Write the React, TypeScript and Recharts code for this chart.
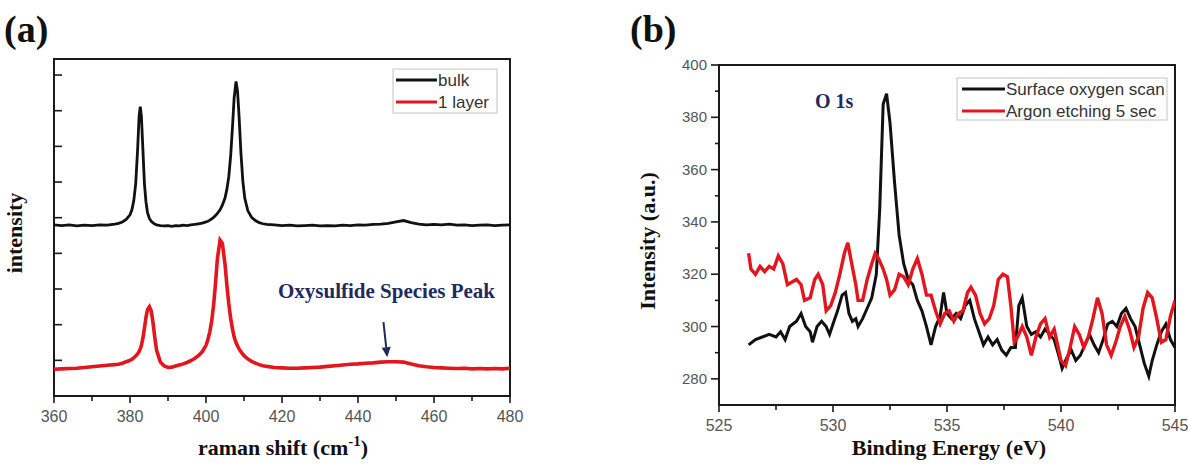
import React from 'react';
import { LineChart, Line, XAxis, YAxis, ReferenceArea, ReferenceLine } from 'recharts';

// Raman spectra (panel a)
const ramanShift = [
  360, 362, 364, 366, 368, 370, 372, 374, 376, 377,
  378, 379, 380, 380.5, 381, 381.5, 382, 382.4, 382.7, 383,
  383.4, 383.8, 384.2, 384.6, 385.1, 385.6, 386, 386.5, 387, 388,
  389, 390, 391, 392, 393, 394, 395, 396, 397, 398,
  399, 400, 400.5, 401, 401.5, 402, 402.5, 403, 403.7, 404.3,
  405, 405.5, 406, 406.5, 407, 407.4, 407.9, 408.3, 408.7, 409.2,
  409.7, 410.2, 411, 412, 413, 414, 415, 416, 418, 420,
  422, 424, 426, 428, 430, 432, 434, 436, 438, 440,
  442, 444, 446, 448, 450, 452, 454, 456, 458, 460,
  462, 464, 466, 468, 470, 472, 474, 476, 478, 480,
];
const bulkIntensity = [
  4.80, 4.78, 4.80, 4.77, 4.79, 4.78, 4.80, 4.79, 4.82, 4.84,
  4.88, 4.95, 5.08, 5.22, 5.48, 5.95, 6.90, 7.85, 8.11, 7.85,
  6.90, 5.95, 5.45, 5.15, 4.98, 4.90, 4.86, 4.82, 4.80, 4.78,
  4.77, 4.78, 4.76, 4.78, 4.77, 4.79, 4.78, 4.80, 4.81, 4.83,
  4.85, 4.88, 4.90, 4.93, 4.97, 5.01, 5.06, 5.12, 5.22, 5.35,
  5.55, 5.80, 6.15, 6.75, 7.60, 8.35, 8.82, 8.55, 7.85, 6.80,
  6.02, 5.55, 5.20, 5.01, 4.92, 4.86, 4.83, 4.81, 4.80, 4.78,
  4.79, 4.77, 4.78, 4.79, 4.77, 4.78, 4.77, 4.79, 4.78, 4.80,
  4.79, 4.81, 4.82, 4.84, 4.88, 4.92, 4.86, 4.82, 4.80, 4.81,
  4.80, 4.82, 4.79, 4.80, 4.78, 4.79, 4.80, 4.78, 4.79, 4.80,
];
const layerIntensity = [
  0.75, 0.76, 0.77, 0.78, 0.80, 0.82, 0.84, 0.86, 0.88, 0.89,
  0.92, 0.96, 1.00, 1.03, 1.07, 1.12, 1.18, 1.25, 1.32, 1.42,
  1.62, 1.90, 2.20, 2.42, 2.50, 2.38, 2.10, 1.66, 1.28, 0.95,
  0.84, 0.80, 0.81, 0.84, 0.87, 0.90, 0.94, 0.99, 1.05, 1.13,
  1.24, 1.42, 1.58, 1.80, 2.10, 2.55, 3.15, 3.85, 4.37, 4.28,
  3.70, 3.10, 2.58, 2.17, 1.86, 1.66, 1.50, 1.40, 1.32, 1.24,
  1.17, 1.11, 1.04, 0.97, 0.92, 0.88, 0.85, 0.83, 0.80, 0.79,
  0.78, 0.78, 0.79, 0.80, 0.81, 0.83, 0.85, 0.87, 0.89, 0.90,
  0.92, 0.93, 0.95, 0.96, 0.96, 0.95, 0.90, 0.85, 0.82, 0.80,
  0.79, 0.78, 0.77, 0.78, 0.76, 0.77, 0.76, 0.77, 0.76, 0.78,
];
const ramanTicks = [360, 370, 380, 390, 400, 410, 420, 430, 440, 450, 460, 470, 480];
const ramanLevels = [1, 2, 3, 4, 5, 6, 7, 8, 9];
const oxysulfideArrow = [
  { x: 446.7, y: 2.07 },
  { x: 447.7, y: 1.09 },
];

// O 1s XPS scans (panel b)
const surfaceEnergy = [
  526.3, 526.6, 526.9, 527.2, 527.5, 527.7, 527.9, 528.1, 528.4, 528.6,
  528.8, 529.0, 529.1, 529.3, 529.5, 529.7, 529.85, 530.0, 530.2, 530.4,
  530.55, 530.7, 530.85, 531.0, 531.1, 531.3, 531.5, 531.7, 531.9, 532.05,
  532.2, 532.35, 532.5, 532.7, 532.9, 533.1, 533.3, 533.5, 533.7, 533.9,
  534.1, 534.3, 534.5, 534.7, 534.85, 535.0, 535.2, 535.4, 535.6, 535.8,
  536.0, 536.2, 536.4, 536.6, 536.8, 537.0, 537.2, 537.4, 537.6, 537.8,
  538.0, 538.15, 538.3, 538.5, 538.7, 538.9, 539.1, 539.3, 539.5, 539.7,
  539.9, 540.05, 540.25, 540.45, 540.65, 540.85, 541.05, 541.25, 541.45, 541.65,
  541.85, 542.05, 542.25, 542.45, 542.65, 542.85, 543.05, 543.25, 543.45, 543.65,
  543.85, 544.0, 544.2, 544.4, 544.6, 544.8, 545.0,
];
const surfaceCounts = [
  293, 295, 296, 297, 296, 298, 295, 300, 302, 305,
  300, 298, 294, 300, 302, 300, 297, 301, 306, 312,
  313, 305, 302, 303, 300, 303, 307, 311, 320, 345,
  385, 389, 378, 355, 335, 324, 318, 316, 310, 306,
  300, 293, 300, 304, 313, 305, 303, 305, 303, 308,
  310, 303, 298, 293, 296, 293, 295, 291, 289, 292,
  292, 308, 311, 300, 297, 298, 296, 299, 297, 295,
  289, 284, 288, 291, 287, 289, 293, 297, 293, 290,
  295, 301, 302, 300, 305, 307, 303, 300, 293, 286,
  281, 287, 293, 298, 301, 295, 292,
];
const etchEnergy = [
  526.3, 526.4, 526.6, 526.8, 527.0, 527.2, 527.4, 527.6, 527.8, 528.0,
  528.2, 528.4, 528.6, 528.75, 529.0, 529.2, 529.35, 529.55, 529.7, 529.9,
  530.1, 530.3, 530.5, 530.65, 530.8, 531.0, 531.1, 531.3, 531.5, 531.7,
  531.85, 532.0, 532.2, 532.35, 532.5, 532.7, 532.9, 533.1, 533.3, 533.5,
  533.7, 533.9, 534.1, 534.3, 534.5, 534.7, 534.9, 535.1, 535.3, 535.5,
  535.7, 535.9, 536.05, 536.25, 536.45, 536.65, 536.85, 537.05, 537.25, 537.45,
  537.65, 537.8, 537.95, 538.1, 538.3, 538.5, 538.7, 538.9, 539.1, 539.3,
  539.5, 539.7, 539.85, 540.0, 540.2, 540.4, 540.6, 540.8, 541.0, 541.2,
  541.4, 541.6, 541.8, 542.0, 542.2, 542.4, 542.6, 542.8, 543.0, 543.2,
  543.4, 543.6, 543.8, 544.0, 544.2, 544.4, 544.6, 544.8, 545.0,
];
const etchCounts = [
  328, 322, 320, 323, 321, 323, 322, 327, 324, 316,
  317, 318, 316, 310, 311, 318, 320, 316, 306, 308,
  313, 320, 328, 332, 325, 316, 310, 310, 318, 324,
  328, 326, 322, 318, 312, 314, 320, 319, 316, 322,
  326, 320, 312, 312, 306, 301, 305, 306, 302, 305,
  306, 313, 315, 312, 305, 301, 303, 308, 318, 320,
  319, 308, 294, 296, 300, 296, 289, 296, 301, 303,
  296, 299, 293, 287, 285, 292, 300, 297, 292, 296,
  303, 311, 305, 293, 289, 294, 300, 304, 299, 292,
  296, 307, 313, 311, 303, 294, 295, 304, 310,
];
const energyTicks = [525, 527.5, 530, 532.5, 535, 537.5, 540, 542.5, 545];
const countTicks = [280, 290, 300, 310, 320, 330, 340, 350, 360, 370, 380, 390, 400];

const ramanData = ramanShift.map((shift, i) => ({
  shift,
  bulk: bulkIntensity[i],
  layer: layerIntensity[i],
}));
const surfaceData = surfaceEnergy.map((energy, i) => ({ energy, counts: surfaceCounts[i] }));
const etchData = etchEnergy.map((energy, i) => ({ energy, counts: etchCounts[i] }));

const SERIF = '"Liberation Serif", "Times New Roman", serif';
const SANS = '"Liberation Sans", Arial, sans-serif';
const INK = '#1a1a1a';
const LABEL = '#555555';
const RED = '#e3161d';
const NAVY = '#1f2b5e';

// tick renderers: tickSize/tickMargin are 0, so x/y sit on the axis line
const bottomTick = (isMajor: (v: number) => boolean) => (props: any) => {
  const { x, y, payload } = props;
  const major = isMajor(payload.value);
  return (
    <g>
      <line x1={x} x2={x} y1={y} y2={y + (major ? 7 : 5)} stroke={INK} strokeWidth={1.6} />
      {major && (
        <text x={x} y={y + 26} textAnchor="middle" fontSize={16} fontFamily={SANS} fill={LABEL}>
          {payload.value}
        </text>
      )}
    </g>
  );
};

const innerLeftTick = (props: any) => {
  const { x, y } = props;
  return <line x1={x} x2={x + 8} y1={y} y2={y} stroke={INK} strokeWidth={1.6} />;
};

const outerLeftTick = (props: any) => {
  const { x, y, payload } = props;
  const major = payload.value % 20 === 0;
  return (
    <g>
      <line x1={x - (major ? 8 : 4)} x2={x} y1={y} y2={y} stroke={INK} strokeWidth={1.6} />
      {major && (
        <text x={x - 12} y={y + 5} textAnchor="end" fontSize={15} fontFamily={SANS} fill={LABEL}>
          {payload.value}
        </text>
      )}
    </g>
  );
};

const ArrowShape = (props: any) => {
  const { x1, y1, x2, y2 } = props;
  const ang = Math.atan2(y2 - y1, x2 - x1);
  const len = 10;
  const half = 4.5;
  const bx = x2 - len * Math.cos(ang);
  const by = y2 - len * Math.sin(ang);
  const px = -Math.sin(ang) * half;
  const py = Math.cos(ang) * half;
  return (
    <g>
      <line x1={x1} y1={y1} x2={bx} y2={by} stroke={NAVY} strokeWidth={2} />
      <polygon points={`${x2},${y2} ${bx + px},${by + py} ${bx - px},${by - py}`} fill={NAVY} />
    </g>
  );
};

const RamanPanel = () => (
  <LineChart width={600} height={471} data={ramanData} margin={{ top: 59, right: 90, bottom: 45, left: 24 }}>
    <XAxis
      dataKey="shift"
      type="number"
      domain={[360, 480]}
      ticks={ramanTicks}
      interval={0}
      height={30}
      axisLine={false}
      tickLine={false}
      tickSize={0}
      tickMargin={0}
      tick={bottomTick((v) => v % 20 === 0)}
      allowDataOverflow
    />
    <YAxis
      type="number"
      domain={[0, 9.45]}
      ticks={ramanLevels}
      interval={0}
      width={30}
      axisLine={false}
      tickLine={false}
      tickSize={0}
      tickMargin={0}
      tick={innerLeftTick}
      allowDataOverflow
    />
    <ReferenceArea x1={360} x2={480} y1={0} y2={9.45} fill="none" stroke={INK} strokeWidth={2} ifOverflow="extendDomain" />
    <Line dataKey="bulk" type="linear" stroke="#111" strokeWidth={2.8} dot={false} isAnimationActive={false} />
    <Line dataKey="layer" type="linear" stroke={RED} strokeWidth={3.6} dot={false} isAnimationActive={false} />
    <ReferenceLine segment={oxysulfideArrow} shape={ArrowShape} ifOverflow="extendDomain" />
  </LineChart>
);

const XpsPanel = () => (
  <LineChart width={588} height={471} margin={{ top: 65, right: 13, bottom: 36, left: 89 }}>
    <XAxis
      dataKey="energy"
      type="number"
      domain={[525, 545]}
      ticks={energyTicks}
      interval={0}
      height={30}
      axisLine={false}
      tickLine={false}
      tickSize={0}
      tickMargin={0}
      tick={bottomTick((v) => v % 5 === 0)}
      allowDataOverflow
    />
    <YAxis
      type="number"
      domain={[270, 400]}
      ticks={countTicks}
      interval={0}
      width={30}
      axisLine={false}
      tickLine={false}
      tickSize={0}
      tickMargin={0}
      tick={outerLeftTick}
      allowDataOverflow
    />
    <ReferenceArea x1={525} x2={545} y1={270} y2={400} fill="none" stroke={INK} strokeWidth={2} ifOverflow="extendDomain" />
    <Line data={surfaceData} dataKey="counts" type="linear" stroke="#111" strokeWidth={3} dot={false} isAnimationActive={false} />
    <Line data={etchData} dataKey="counts" type="linear" stroke={RED} strokeWidth={3.4} dot={false} isAnimationActive={false} />
  </LineChart>
);

const App = () => (
  <div style={{ position: 'absolute', left: 0, top: 0, width: 1188, height: 471, background: '#fff', overflow: 'hidden' }}>
    <div style={{ position: 'absolute', left: 0, top: 0 }}>
      <RamanPanel />
    </div>
    <div style={{ position: 'absolute', left: 600, top: 0 }}>
      <XpsPanel />
    </div>
    <svg width={1188} height={471} style={{ position: 'absolute', left: 0, top: 0, pointerEvents: 'none' }}>
      {/* panel letters */}
      <text x={4} y={42} fontFamily={SERIF} fontWeight="bold" fontSize={38} fill="#111">(a)</text>
      <text x={630} y={42} fontFamily={SERIF} fontWeight="bold" fontSize={38} fill="#111">(b)</text>

      {/* axis titles */}
      <text x={22} y={233} transform="rotate(-90 22 233)" textAnchor="middle" fontFamily={SERIF} fontWeight="bold" fontSize={22} fill="#111">
        intensity
      </text>
      <text x={283} y={455} textAnchor="middle" fontFamily={SERIF} fontWeight="bold" fontSize={22} fill="#111">
        raman shift (cm<tspan dy={-9} fontSize={15}>-1</tspan><tspan dy={9}>)</tspan>
      </text>
      <text x={655} y={241} transform="rotate(-90 655 241)" textAnchor="middle" fontFamily={SERIF} fontWeight="bold" fontSize={22} fill="#111">
        Intensity (a.u.)
      </text>
      <text x={949} y={455} textAnchor="middle" fontFamily={SERIF} fontWeight="bold" fontSize={22} fill="#111">
        Binding Energy (eV)
      </text>

      {/* annotations */}
      <text x={278} y={298} fontFamily={SERIF} fontWeight="bold" fontSize={21} fill={NAVY}>Oxysulfide Species Peak</text>
      <text x={815} y={108} fontFamily={SERIF} fontWeight="bold" fontSize={20} fill={NAVY}>O 1s</text>

      {/* legend, panel a */}
      <rect x={393} y={69} width={104} height={44} fill="#fff" stroke="#c4c4c4" strokeWidth={1} />
      <line x1={396} x2={437} y1={80} y2={80} stroke="#111" strokeWidth={3} />
      <line x1={396} x2={437} y1={102} y2={102} stroke={RED} strokeWidth={3} />
      <text x={438} y={86} fontFamily={SANS} fontSize={17} fill="#333">bulk</text>
      <text x={438} y={108} fontFamily={SANS} fontSize={17} fill="#333">1 layer</text>

      {/* legend, panel b */}
      <rect x={957} y={78} width={210} height={42} fill="#fff" stroke="#c4c4c4" strokeWidth={1} />
      <line x1={962} x2={1005} y1={89} y2={89} stroke="#111" strokeWidth={3} />
      <line x1={962} x2={1005} y1={111} y2={111} stroke={RED} strokeWidth={3} />
      <text x={1006} y={95} fontFamily={SANS} fontSize={17} fill="#333">Surface oxygen scan</text>
      <text x={1006} y={117} fontFamily={SANS} fontSize={17} fill="#333">Argon etching 5 sec</text>
    </svg>
  </div>
);

export default App;
